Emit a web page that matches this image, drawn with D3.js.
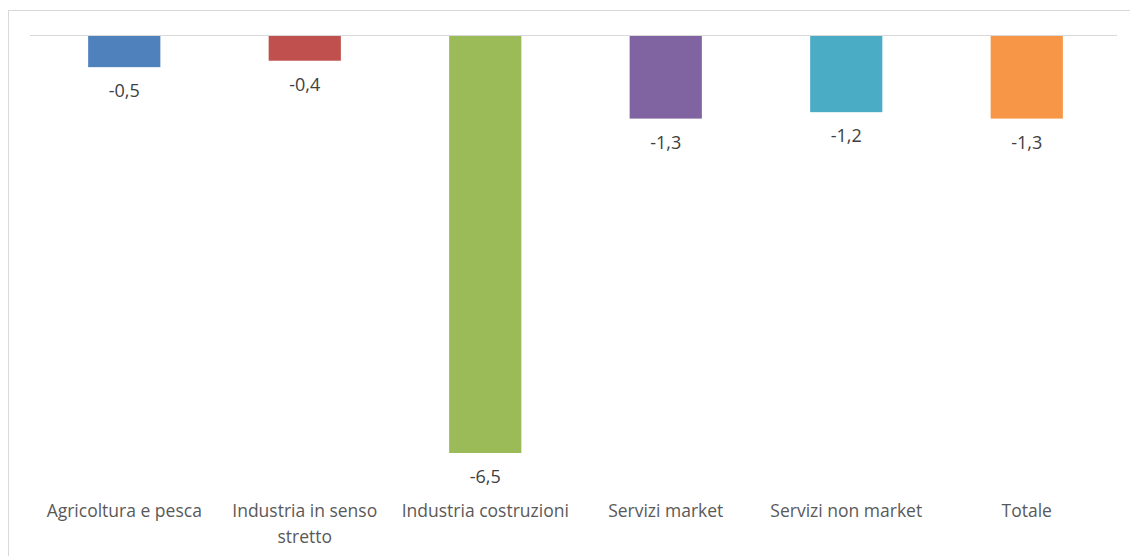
<!DOCTYPE html>
<html>
<head>
<meta charset="utf-8">
<script src="https://cdn.jsdelivr.net/npm/d3@7"></script>
<style>
  html, body { margin: 0; padding: 0; background: #fff; }
  svg { display: block; }
</style>
</head>
<body>
<svg id="chart" width="1130" height="556"></svg>
<script>
// Sector categories and their percentage changes
const categories = [
  ["Agricoltura e pesca"],
  ["Industria in senso", "stretto"],
  ["Industria costruzioni"],
  ["Servizi market"],
  ["Servizi non market"],
  ["Totale"]
];
const values = [-0.5, -0.4, -6.5, -1.3, -1.2, -1.3];
const colors = ["#4f81bd", "#c0504d", "#9bbb59", "#8064a2", "#4bacc6", "#f79646"];
const valueLabels = ["-0,5", "-0,4", "-6,5", "-1,3", "-1,2", "-1,3"];

const svg = d3.select("#chart");
const W = 1130, H = 556;
const plot = { left: 34, right: 1117, top: 35 };

// chart area frame
svg.append("rect")
  .attr("x", 8.5).attr("y", 10.5)
  .attr("width", W + 10).attr("height", H + 10)
  .attr("fill", "#fff")
  .attr("stroke", "#d9d9d9").attr("stroke-width", 1);

const x = d3.scaleBand()
  .domain(d3.range(categories.length))
  .range([plot.left, plot.right])
  .paddingInner(0.6).paddingOuter(0.3);

const y = d3.scaleLinear()
  .domain([0, -6.5])
  .range([plot.top, plot.top + 418]);

// zero line
svg.append("line")
  .attr("x1", plot.left - 4).attr("x2", plot.right)
  .attr("y1", y(0) + 0.5).attr("y2", y(0) + 0.5)
  .attr("stroke", "#d9d9d9").attr("stroke-width", 1);

// bars
svg.selectAll("rect.bar")
  .data(values)
  .join("rect")
  .attr("class", "bar")
  .attr("x", (d, i) => x(i))
  .attr("y", y(0) + 1)
  .attr("width", x.bandwidth())
  .attr("height", d => y(d) - y(0) - 1)
  .attr("fill", (d, i) => colors[i]);

// value labels below each bar
svg.selectAll("text.val")
  .data(values)
  .join("text")
  .attr("class", "val")
  .attr("x", (d, i) => x(i) + x.bandwidth() / 2)
  .attr("y", d => y(d) + 30)
  .attr("text-anchor", "middle")
  .attr("font-family", "'Open Sans', sans-serif")
  .attr("font-size", 18)
  .attr("fill", "#404040")
  .text((d, i) => valueLabels[i]);

// category labels
const cat = svg.selectAll("text.cat")
  .data(categories)
  .join("text")
  .attr("class", "cat")
  .attr("x", (d, i) => x(i) + x.bandwidth() / 2)
  .attr("y", 517)
  .attr("text-anchor", "middle")
  .attr("font-family", "'Open Sans', sans-serif")
  .attr("font-size", 17.5)
  .attr("fill", "#595959");

cat.selectAll("tspan")
  .data((d, i) => d.map(t => ({ t, i })))
  .join("tspan")
  .attr("x", d => x(d.i) + x.bandwidth() / 2)
  .attr("dy", (d, j) => j === 0 ? 0 : 26)
  .text(d => d.t);
</script>
</body>
</html>
